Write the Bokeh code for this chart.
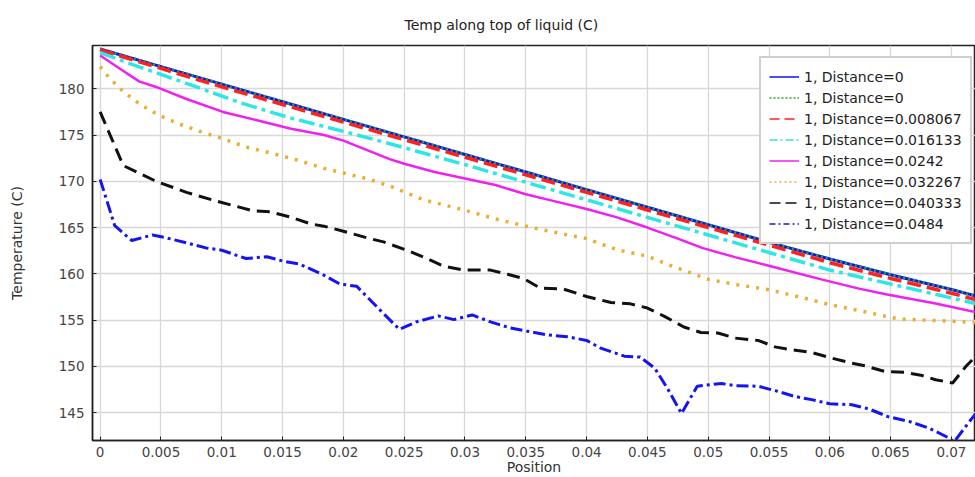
from bokeh.plotting import figure
from bokeh.models import Range1d, FixedTicker, Legend, LegendItem
from bokeh.embed import file_html
from bokeh.resources import INLINE

# ---------------- data ----------------
x_top = [0, 0.005, 0.01, 0.015, 0.02, 0.025, 0.03, 0.035, 0.04, 0.045, 0.05, 0.055, 0.06, 0.065, 0.07, 0.0726]
t_d0 = [184.3, 182.4, 180.5, 178.6, 176.7, 174.8, 172.9, 171.0, 169.1, 167.2, 165.3, 163.4, 161.6, 159.9, 158.3, 157.4]
t_d0b = [184.3, 182.4, 180.5, 178.6, 176.7, 174.8, 172.9, 171.0, 169.1, 167.2, 165.3, 163.4, 161.6, 159.9, 158.3, 157.4]
t_d1 = [184.2, 182.2, 180.2, 178.3, 176.4, 174.5, 172.6, 170.7, 168.8, 166.9, 165.0, 163.1, 161.2, 159.5, 157.9, 157.0]

x_d2 = [0, 0.0025, 0.0075, 0.0115, 0.0155, 0.02, 0.024, 0.03, 0.035, 0.04, 0.045, 0.05, 0.055, 0.06, 0.065, 0.0726]
t_d2 = [183.9, 182.7, 180.4, 178.5, 176.9, 175.4, 174.0, 171.8, 169.9, 168.0, 166.1, 164.2, 162.3, 160.4, 158.9, 156.6]

x_d3 = [0, 0.0016, 0.0032, 0.0046, 0.0071, 0.0101, 0.0129, 0.0156, 0.0184, 0.020, 0.0238, 0.025, 0.0275,
        0.03, 0.0325, 0.035, 0.0375, 0.04, 0.0425, 0.045, 0.0475, 0.0495, 0.0522, 0.0549, 0.0593, 0.0624,
        0.0646, 0.0687, 0.072, 0.0726]
t_d3 = [183.6, 182.2, 180.8, 180.2, 178.9, 177.5, 176.6, 175.7, 175.0, 174.4, 172.4, 171.9, 171.0,
        170.3, 169.6, 168.6, 167.8, 167.0, 166.1, 165.0, 163.8, 162.8, 161.8, 160.9, 159.4, 158.4,
        157.8, 156.8, 155.85, 155.7]

x_d4 = [0, 0.0008, 0.0019, 0.0032, 0.0046, 0.0063, 0.0082, 0.0101, 0.012, 0.0142, 0.0162, 0.0184, 0.020,
        0.0219, 0.0238, 0.0266, 0.0299, 0.0329, 0.0362, 0.040, 0.0425, 0.045, 0.0467, 0.05, 0.0525, 0.0549,
        0.0575, 0.0599, 0.0625, 0.0646, 0.0658, 0.0687, 0.0726]
t_d4 = [182.4, 181.1, 179.7, 178.4, 177.3, 176.3, 175.4, 174.6, 173.7, 173.0, 172.3, 171.4, 170.9,
        170.3, 169.5, 168.0, 166.9, 165.8, 164.8, 163.8, 162.6, 161.9, 161.0, 159.4, 158.8, 158.3,
        157.5, 156.7, 156.0, 155.4, 155.1, 154.95, 154.7]

x_d5 = [0, 0.0019, 0.0046, 0.0071, 0.0093, 0.0126, 0.014, 0.0156, 0.0173, 0.0184, 0.020, 0.0219, 0.0233,
        0.0252, 0.0266, 0.0282, 0.0299, 0.0321, 0.0335, 0.0348, 0.0362, 0.0381, 0.040, 0.042, 0.0436, 0.045,
        0.0464, 0.048, 0.0494, 0.0508, 0.0522, 0.0541, 0.0555, 0.0568, 0.0585, 0.0601, 0.0618, 0.0629,
        0.0645, 0.0662, 0.0676, 0.0687, 0.0701, 0.0712, 0.072, 0.0726]
t_d5 = [177.5, 171.7, 170.0, 168.8, 167.95, 166.8, 166.7, 166.15, 165.4, 165.15, 164.6, 163.9, 163.45,
        162.55, 161.8, 160.85, 160.4, 160.4, 159.95, 159.5, 158.45, 158.35, 157.55, 156.9, 156.75, 156.3,
        155.4, 154.25, 153.65, 153.6, 153.05, 152.8, 152.1, 151.8, 151.5, 150.9, 150.35, 150.05,
        149.45, 149.35, 149.0, 148.55, 148.2, 150.0, 151.1, 151.9]

x_d6 = [0, 0.0012, 0.0026, 0.0043, 0.0054, 0.0071, 0.0087, 0.0100, 0.012, 0.0137, 0.0151, 0.0164, 0.0184,
        0.0197, 0.0211, 0.023, 0.0246, 0.026, 0.0278, 0.0291, 0.0306, 0.0321, 0.0337, 0.0351, 0.0367, 0.0384,
        0.040, 0.0411, 0.0431, 0.0444, 0.0456, 0.0467, 0.0478, 0.0491, 0.0511, 0.0522, 0.0541, 0.0557,
        0.0571, 0.0585, 0.060, 0.0618, 0.0632, 0.0648, 0.0665, 0.0681, 0.0698, 0.0702, 0.0717, 0.0726]
t_d6 = [170.2, 165.2, 163.6, 164.2, 163.9, 163.35, 162.8, 162.55, 161.65, 161.85, 161.35, 161.05, 159.85,
        158.9, 158.65, 156.1, 154.0, 154.8, 155.45, 155.05, 155.55, 154.8, 154.15, 153.8, 153.4, 153.2,
        152.8, 152.0, 151.1, 151.0, 149.8, 147.5, 144.9, 147.85, 148.15, 147.9, 147.85, 147.3,
        146.75, 146.4, 145.95, 145.85, 145.4, 144.55, 144.05, 143.35, 142.25, 141.8, 144.4, 145.8]

series_labels = ["1, Distance=0", "1, Distance=0", "1, Distance=0.008067", "1, Distance=0.016133",
                 "1, Distance=0.0242", "1, Distance=0.032267", "1, Distance=0.040333", "1, Distance=0.0484"]

x_ticks = [0, 0.005, 0.01, 0.015, 0.02, 0.025, 0.03, 0.035, 0.04, 0.045, 0.05, 0.055, 0.06, 0.065, 0.07]
x_tick_labels = ["0", "0.005", "0.01", "0.015", "0.02", "0.025", "0.03", "0.035", "0.04", "0.045",
                 "0.05", "0.055", "0.06", "0.065", "0.07"]
y_ticks = [145, 150, 155, 160, 165, 170, 175, 180]

title_text = "Temp along top of liquid (C)"
x_label = "Position"
y_label = "Temperature (C)"

# ---------------- styles ----------------
FONT = "DejaVu Sans"
styles = [
    dict(color="#1010ff", dash="solid", w=3.0),
    dict(color="#2aa52a", dash="2 3", w=3.0),
    dict(color="#ff2020", dash="14 6", w=3.5),
    dict(color="#2ee6e6", dash="16 5 4 5", w=3.5),
    dict(color="#f020f0", dash="solid", w=2.5),
    dict(color="#e8b030", dash="3 7", w=3.5),
    dict(color="#111111", dash="13 7", w=3.0),
    dict(color="#1515f0", dash="12 4 3 4", w=3.0),
]
legend_dash = ["solid", "2 2", "10 5", "8 3 2 3", "solid", "2 3", "11 5", "6 3 2 3"]

p = figure(width=975, height=477, output_backend="svg", toolbar_location=None,
           x_range=Range1d(-0.00063, 0.07198), y_range=Range1d(141.98, 184.68),
           min_border_left=92, min_border_right=0, min_border_top=45, min_border_bottom=36)

p.title.text = title_text
p.title.align = "left"
p.title.text_font = FONT
p.title.text_font_size = "14px"
p.title.text_font_style = "normal"
p.title.text_color = "#222222"
p.title.offset = 312
p.title.standoff = 26

p.outline_line_color = "#222222"
p.outline_line_width = 1.5

for ax in (p.xaxis[0], p.yaxis[0]):
    ax.axis_line_color = "#222222"
    ax.axis_line_width = 1.5
    ax.major_tick_in = 4
    ax.major_tick_out = 0
    ax.minor_tick_in = 0
    ax.minor_tick_out = 0
    ax.major_tick_line_color = "#222222"
    ax.major_label_text_font = FONT
    ax.major_label_text_font_size = "13.5px"
    ax.major_label_text_color = "#444444"
    ax.axis_label_text_font = FONT
    ax.axis_label_text_font_size = "14px"
    ax.axis_label_text_font_style = "normal"
    ax.axis_label_text_color = "#333333"

p.xaxis.ticker = FixedTicker(ticks=x_ticks)
p.xaxis.major_label_overrides = {t: l for t, l in zip(x_ticks, x_tick_labels)}
p.yaxis.ticker = FixedTicker(ticks=y_ticks)
p.xaxis.axis_label = x_label
p.yaxis.axis_label = y_label
p.xaxis.major_label_standoff = 6
p.xaxis.axis_label_standoff = -1
p.yaxis.major_label_standoff = 8
p.yaxis.axis_label_standoff = 31

p.xgrid.grid_line_color = "#d8d8d8"
p.ygrid.grid_line_color = "#d8d8d8"
p.xgrid.grid_line_width = 1.3
p.ygrid.grid_line_width = 1.3

xs = [x_top, x_top, x_top, x_d2, x_d3, x_d4, x_d5, x_d6]
ts = [t_d0, t_d0b, t_d1, t_d2, t_d3, t_d4, t_d5, t_d6]

items = []
for x, t, st, lab, ld in zip(xs, ts, styles, series_labels, legend_dash):
    p.line(x, t, line_color=st["color"], line_width=st["w"], line_dash=st["dash"])
    # legend sample (thin line), kept outside the visible range
    dummy = p.line(x=[-1.0, -0.9], y=[0, 0], line_color=st["color"], line_width=1.5, line_dash=ld)
    items.append(LegendItem(label=lab, renderers=[dummy]))

legend = Legend(items=items, location=(667, 196))
legend.label_text_font = FONT
legend.label_text_font_size = "14px"
legend.label_text_color = "#222222"
legend.glyph_width = 30
legend.glyph_height = 21
legend.label_height = 21
legend.label_standoff = 5
legend.spacing = 0
legend.padding = 8
legend.margin = 0
legend.border_line_color = "#a0a0a0"
legend.border_line_width = 2
legend.background_fill_color = "white"
legend.background_fill_alpha = 1.0
p.add_layout(legend, "center")

open("out.html", "w").write(file_html(p, INLINE))
